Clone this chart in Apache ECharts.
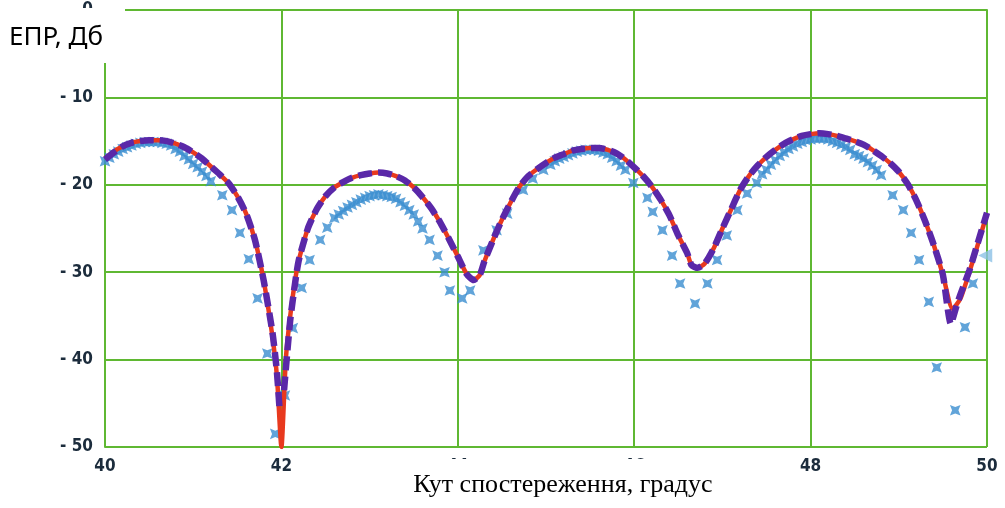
<!DOCTYPE html>
<html><head><meta charset="utf-8">
<script src="https://cdn.jsdelivr.net/npm/echarts@6/dist/echarts.min.js"></script>
<style>html,body{margin:0;padding:0;background:#fff}#c{width:1005px;height:508px}</style>
</head><body><div id="c"></div>
<script>
// Axis settings
const xMin = 40, xMax = 50, xStep = 2;
const yMin = -50, yMax = 0, yStep = 10;
const xTitle = 'Кут спостереження, градус';
const yTitle = 'ЕПР, Дб';

// Red series (x, y)
const redX = [40.0,40.1,40.2,40.3,40.4,40.5,40.6,40.7,40.8,40.9,41.0,41.1,41.2,41.3,41.4,41.5,41.6,41.7,41.8,41.9,41.95,42.0,
  42.05,42.1,42.17,42.2,42.3,42.4,42.5,42.6,42.7,42.8,42.9,43.0,43.1,43.2,43.3,43.4,43.5,43.6,43.7,43.8,43.9,44.0,44.1,44.18,44.25,
  44.3,44.4,44.5,44.6,44.7,44.8,44.9,45.0,45.1,45.2,45.3,45.4,45.5,45.6,45.7,45.8,45.9,46.0,46.1,46.2,46.3,46.4,46.5,46.6,46.65,46.72,
  46.8,46.9,47.0,47.1,47.2,47.3,47.4,47.5,47.6,47.7,47.8,47.9,48.0,48.1,48.2,48.3,48.4,48.5,48.6,48.7,48.8,48.9,49.0,49.1,49.2,49.3,
  49.4,49.5,49.61,49.7,49.8,49.9,50.0];
const redY = [-17.0,-16.2,-15.6,-15.2,-15.0,-14.9,-14.9,-15.0,-15.3,-15.7,-16.3,-17.0,-17.9,-18.8,-19.8,-21.3,-23.3,-26.3,-31.0,-37.5,-42.0,-50.0,
  -40.0,-35.0,-30.0,-28.5,-25.0,-22.8,-21.3,-20.3,-19.7,-19.2,-18.9,-18.7,-18.6,-18.7,-19.0,-19.5,-20.3,-21.4,-22.7,-24.3,-26.2,-28.2,-30.2,-30.9,-30.3,
  -28.8,-26.3,-24.0,-22.0,-20.2,-19.0,-18.2,-17.5,-16.9,-16.5,-16.1,-15.9,-15.8,-15.8,-16.0,-16.4,-17.1,-18.0,-19.0,-20.2,-21.7,-23.5,-25.8,-27.8,-29.2,-29.5,
  -29.0,-27.3,-25.0,-22.8,-20.6,-19.0,-17.8,-16.8,-16.0,-15.3,-14.8,-14.4,-14.2,-14.1,-14.2,-14.4,-14.7,-15.0,-15.4,-16.0,-16.7,-17.5,-18.5,-19.9,-21.8,-24.2,
  -27.0,-30.3,-34.2,-33.0,-30.0,-26.7,-23.3];

// Purple series (x, y) - null breaks the line at the 42 deg null
const purpleX = [40.0,40.1,40.2,40.3,40.4,40.5,40.6,40.7,40.8,40.9,41.0,41.1,41.2,41.3,41.4,41.5,41.6,41.7,41.8,41.9,41.95,41.98,41.99,
  42.03,42.1,42.17,42.2,42.3,42.4,42.5,42.6,42.7,42.8,42.9,43.0,43.1,43.2,43.3,43.4,43.5,43.6,43.7,43.8,43.9,44.0,44.1,44.18,44.25,
  44.3,44.4,44.5,44.6,44.7,44.8,44.9,45.0,45.1,45.2,45.3,45.4,45.5,45.6,45.7,45.8,45.9,46.0,46.1,46.2,46.3,46.4,46.5,46.6,46.65,46.72,
  46.8,46.9,47.0,47.1,47.2,47.3,47.4,47.5,47.6,47.7,47.8,47.9,48.0,48.1,48.2,48.3,48.4,48.5,48.6,48.7,48.8,48.9,49.0,49.1,49.2,49.3,
  49.4,49.5,49.59,49.65,49.7,49.8,49.9,50.0];
const purpleY = [-17.1,-16.3,-15.6,-15.2,-15.0,-14.9,-14.9,-15.0,-15.3,-15.7,-16.3,-17.0,-17.9,-18.8,-19.8,-21.3,-23.3,-26.3,-31.0,-37.0,-41.5,-45.8,null,
  -43.5,-35.5,-30.2,-28.5,-25.0,-22.8,-21.3,-20.3,-19.7,-19.2,-18.9,-18.7,-18.6,-18.7,-19.0,-19.5,-20.3,-21.4,-22.7,-24.3,-26.2,-28.2,-30.2,-30.9,-30.3,
  -28.8,-26.3,-24.0,-22.0,-20.2,-19.0,-18.2,-17.5,-16.9,-16.5,-16.1,-15.9,-15.8,-15.8,-16.0,-16.4,-17.1,-18.0,-19.0,-20.2,-21.7,-23.5,-25.8,-27.8,-29.2,-29.5,
  -29.0,-27.3,-25.0,-22.8,-20.6,-19.0,-17.8,-16.8,-16.0,-15.3,-14.8,-14.4,-14.2,-14.1,-14.2,-14.4,-14.7,-15.0,-15.4,-16.0,-16.7,-17.5,-18.5,-19.9,-21.8,-24.2,
  -27.0,-30.3,-35.9,-34.0,-32.5,-29.8,-26.5,-23.2];

// Light-blue star markers (x, y)
const blueX = [40.0,40.05,40.1,40.15,40.2,40.25,40.3,40.35,40.4,40.45,40.5,40.55,40.6,40.65,40.7,40.75,40.8,40.85,40.9,40.95,41.0,41.05,41.1,41.15,41.2,
  41.33,41.44,41.53,41.63,41.73,41.84,41.93,42.04,42.13,42.23,42.32,42.44,42.52,42.6,42.65,42.7,42.75,42.8,42.85,42.9,42.95,43.0,43.05,43.1,43.15,43.2,43.25,43.3,43.35,43.4,43.45,43.5,43.55,43.6,
  43.68,43.77,43.85,43.91,44.05,44.14,44.29,44.44,44.56,44.74,44.85,44.97,45.05,45.1,45.15,45.2,45.25,45.3,45.35,45.4,45.45,45.5,45.55,45.6,45.65,45.7,45.75,45.8,45.85,45.9,45.99,
  46.15,46.21,46.32,46.43,46.52,46.69,46.83,46.94,47.05,47.17,47.28,47.39,47.45,47.5,47.55,47.6,47.65,47.7,47.75,47.8,47.85,47.9,47.95,48.0,48.05,48.1,48.15,48.2,48.25,48.3,48.35,48.4,48.45,48.5,48.55,48.6,48.65,48.7,48.75,48.8,
  48.93,49.05,49.14,49.23,49.34,49.43,49.64,49.75,49.84];
const blueY = [-17.3,-16.9,-16.5,-16.2,-15.9,-15.7,-15.5,-15.3,-15.2,-15.1,-15.1,-15.1,-15.1,-15.2,-15.3,-15.5,-15.9,-16.2,-16.7,-17.1,-17.6,-18.0,-18.5,-19.0,-19.6,
  -21.2,-22.9,-25.5,-28.5,-33.0,-39.3,-48.5,-44.1,-36.4,-31.8,-28.6,-26.3,-24.9,-23.8,-23.4,-23.0,-22.6,-22.3,-22.0,-21.7,-21.5,-21.3,-21.2,-21.1,-21.2,-21.3,-21.4,-21.6,-22.0,-22.4,-22.9,-23.4,-24.2,-25.0,
  -26.3,-28.1,-30.0,-32.1,-33.0,-32.1,-27.5,-25.2,-23.3,-20.6,-19.3,-18.3,-17.7,-17.3,-17.0,-16.8,-16.6,-16.4,-16.2,-16.1,-16.0,-16.0,-16.0,-16.1,-16.3,-16.5,-16.9,-17.3,-17.8,-18.3,-19.8,
  -21.5,-23.1,-25.2,-28.1,-31.3,-33.6,-31.3,-28.6,-25.8,-22.9,-21.0,-19.8,-18.8,-18.3,-17.7,-17.2,-16.7,-16.3,-15.9,-15.6,-15.3,-15.1,-14.9,-14.8,-14.7,-14.7,-14.7,-14.8,-15.0,-15.2,-15.4,-15.7,-16.0,-16.5,-16.7,-17.0,-17.4,-17.8,-18.3,-18.9,
  -21.2,-22.9,-25.5,-28.6,-33.4,-40.9,-45.8,-36.3,-31.3];
// Triangle marker at right edge
const edgeX = [49.98];
const edgeY = [-28.1];

const zip = (xs, ys) => xs.map((x, i) => [x, ys[i]]);

const green = '#5fb832';
const tickFont = { fontFamily: "'Liberation Sans Narrow', 'DejaVu Sans Condensed', sans-serif", fontWeight: 'bold', fontSize: 17, color: '#1c2c3c' };

const chart = echarts.init(document.getElementById('c'), null, { renderer: 'canvas' });
chart.setOption({
  animation: false,
  backgroundColor: '#ffffff',
  grid: { left: 105, right: 18, top: 10, bottom: 61, containLabel: false },
  xAxis: {
    type: 'value', min: xMin, max: xMax, interval: xStep,
    axisLine: { show: true, lineStyle: { color: green, width: 2 } },
    axisTick: { show: false },
    splitLine: { show: true, lineStyle: { color: green, width: 2 } },
    axisLabel: Object.assign({ margin: 11 }, tickFont)
  },
  yAxis: {
    type: 'value', min: yMin, max: yMax, interval: yStep,
    axisLine: { show: true, lineStyle: { color: green, width: 2 } },
    axisTick: { show: false },
    splitLine: { show: true, lineStyle: { color: green, width: 2 } },
    axisLabel: Object.assign({ margin: 12, formatter: v => v < 0 ? '- ' + (-v) : String(v) }, tickFont)
  },
  series: [
    {
      type: 'scatter', name: 'blue', z: 2,
      data: zip(blueX, blueY),
      symbol: 'path://M0,-10 L3,-3 L10,0 L3,3 L0,10 L-3,3 L-10,0 L-3,-3 Z',
      symbolRotate: 45, symbolSize: 15,
      itemStyle: { color: '#3a8dd0' }
    },
    {
      type: 'scatter', name: 'edge', z: 2,
      data: zip(edgeX, edgeY),
      symbol: 'triangle', symbolRotate: 90, symbolSize: 14,
      itemStyle: { color: '#8cc0e6' }
    },
    {
      type: 'line', name: 'red', z: 3,
      data: zip(redX, redY),
      showSymbol: false, smooth: 0.2,
      lineStyle: { color: '#e8391e', width: 4.5 }
    },
    {
      type: 'line', name: 'purple', z: 4,
      data: zip(purpleX, purpleY),
      showSymbol: false, smooth: 0.2, connectNulls: false,
      lineStyle: { color: '#5a28a8', width: 6.5, type: [14, 6] }
    }
  ],
  graphic: [
    { type: 'rect', z: 100, shape: { x: 0, y: 8, width: 125, height: 55 }, style: { fill: '#ffffff' } },
    { type: 'text', z: 101, x: 9, y: 38, style: { text: yTitle, fill: '#000', font: "26px 'Noto Sans', sans-serif", textVerticalAlign: 'middle', verticalAlign: 'middle' } },
    { type: 'rect', z: 100, shape: { x: 400, y: 459, width: 360, height: 49 }, style: { fill: '#ffffff' } },
    { type: 'text', z: 101, x: 563, y: 485, style: { text: xTitle, fill: '#000', font: "26px 'Liberation Serif', serif", align: 'center', textAlign: 'center', verticalAlign: 'middle', textVerticalAlign: 'middle' } }
  ]
});
</script>
</body></html>
